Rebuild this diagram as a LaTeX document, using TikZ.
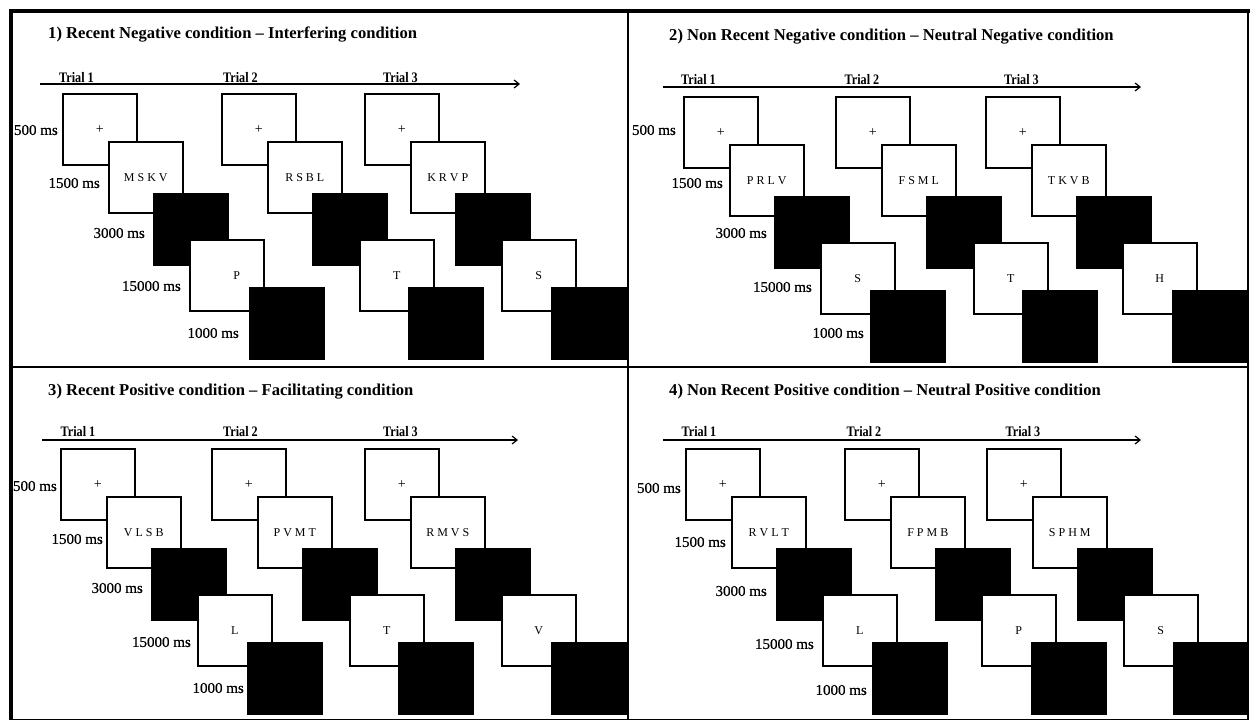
\documentclass[tikz,border=0pt]{standalone}
\usepackage{fontspec}
\setmainfont{Liberation Serif}
\newfontfamily\trialfont[FakeStretch=0.84]{Liberation Serif}
\newfontfamily\msfont[FakeBold=0.6]{Liberation Serif}
\usetikzlibrary{arrows.meta}
\tikzset{
  wbox/.style={draw=black, line width=1.6pt, fill=white, minimum width=74pt, minimum height=71pt,
    anchor=north west, inner sep=0pt, font=\fontsize{12}{14}\selectfont},
  bbox/.style={wbox, fill=black},
  tlab/.style={anchor=east, inner sep=0pt, font=\msfont\fontsize{15}{17}\selectfont},
  ttl/.style={anchor=base west, inner sep=0pt, font=\bfseries\fontsize{16.6}{19}\selectfont},
  trl/.style={anchor=base, inner sep=0pt, font=\trialfont\bfseries\fontsize{14.5}{16}\selectfont},
  tline/.style={line width=1.3pt, -{Straight Barb[length=5pt,width=8pt,line width=1.2pt]}}
}
\newcommand\mytrial[7]{%
  \node[wbox] (#1a) at (#2,#3) {\fontsize{14}{16}\selectfont +};
  \node[wbox] (#1b) at (#2+46,#3+48) {#4};
  \node[bbox] (#1c) at (#2+91,#3+100) {};
  \node[wbox] (#1d) at (#2+#6,#3+146) {\hspace*{#7}#5};
  \node[bbox] (#1e) at (#2+187,#3+194) {};
}
\newcommand\mylabels[6]{%
  \node[tlab] (#1l1) at (#2) {500 ms};
  \node[tlab] (#1l2) at (#3) {1500 ms};
  \node[tlab] (#1l3) at (#4) {3000 ms};
  \node[tlab] (#1l4) at (#5) {15000 ms};
  \node[tlab] (#1l5) at (#6) {1000 ms};
}
\begin{document}
\begin{tikzpicture}[x=1pt, y=-1pt]
\useasboundingbox[fill=white] (0,0) rectangle (1250,720);

% ---------- Panel 1 ----------
\node[ttl] (t1) at (48,38) {1) Recent Negative condition -- Interfering condition};
\coordinate (p1s) at (40,84); \coordinate (p1e) at (520,84);
\draw[tline] (p1s) -- (p1e);
\node[trl] (p1r1) at (76.5,82) {Trial 1};
\node[trl] (p1r2) at (240.5,82) {Trial 2};
\node[trl] (p1r3) at (400.5,82) {Trial 3};
\mylabels{pa}{58,130}{100,183}{145,233}{181,286}{239,333}
\mytrial{pax}{62}{93}{M S K V}{P}{127}{20pt}
\mytrial{pay}{221}{93}{R S B L}{T}{138}{0pt}
\mytrial{paz}{364}{93}{K R V P}{S}{137}{0pt}

% ---------- Panel 2 ----------
\node[ttl] (t2) at (669,40) {2) Non Recent Negative condition -- Neutral Negative condition};
\coordinate (p2s) at (663,87); \coordinate (p2e) at (1141,87);
\draw[tline] (p2s) -- (p2e);
\node[trl] (p2r1) at (698.5,84) {Trial 1};
\node[trl] (p2r2) at (862,84) {Trial 2};
\node[trl] (p2r3) at (1021.5,84) {Trial 3};
\mylabels{pb}{676,130}{723,183}{767,233}{812,287}{864,333}
\mytrial{pbx}{683}{96}{P R L V}{S}{137}{0pt}
\mytrial{pby}{835}{96}{F S M L}{T}{138}{0pt}
\mytrial{pbz}{985}{96}{T K V B}{H}{137}{0pt}

% ---------- Panel 3 ----------
\node[ttl] (t3) at (48,395) {3) Recent Positive condition -- Facilitating condition};
\coordinate (p3s) at (42,440); \coordinate (p3e) at (518,440);
\draw[tline] (p3s) -- (p3e);
\node[trl] (p3r1) at (78,436) {Trial 1};
\node[trl] (p3r2) at (240.5,436) {Trial 2};
\node[trl] (p3r3) at (400.5,436) {Trial 3};
\mylabels{pc}{57,486}{103,539}{143,588}{191,642}{244,688}
\mytrial{pcx}{60}{448}{V L S B}{L}{137}{0pt}
\mytrial{pcy}{211}{448}{P V M T}{T}{138}{0pt}
\mytrial{pcz}{364}{448}{R M V S}{V}{137}{0pt}

% ---------- Panel 4 ----------
\node[ttl] (t4) at (669,395) {4) Non Recent Positive condition -- Neutral Positive condition};
\coordinate (p4s) at (663,440); \coordinate (p4e) at (1141,440);
\draw[tline] (p4s) -- (p4e);
\node[trl] (p4r1) at (699,436) {Trial 1};
\node[trl] (p4r2) at (864,436) {Trial 2};
\node[trl] (p4r3) at (1023,436) {Trial 3};
\mylabels{pd}{681,488}{726,542}{767,591}{814,644}{867,690}
\mytrial{pdx}{685}{448}{R V L T}{L}{137}{0pt}
\mytrial{pdy}{844}{448}{F P M B}{P}{137}{0pt}
\mytrial{pdz}{986}{448}{S P H M}{S}{137}{0pt}

% ---------- Frame ----------
\draw[line width=4.5pt] (11,720) -- (11,11) -- (1250,11);
\draw[line width=2pt] (1248,11) -- (1248,720);
\draw[line width=2pt] (11,367) -- (1248,367);
\draw[line width=2pt] (628,11) -- (628,720);
\draw[line width=1pt] (11,719.5) -- (1248,719.5);
\end{tikzpicture}
\end{document}
